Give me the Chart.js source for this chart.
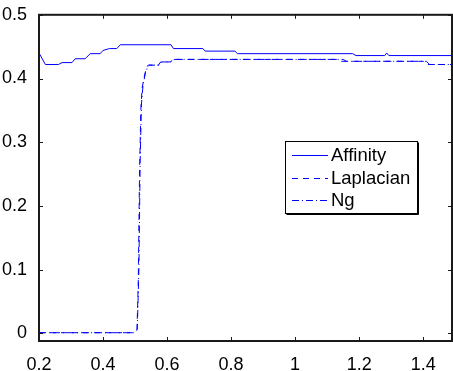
<!DOCTYPE html>
<html>
<head>
<meta charset="utf-8">
<script src="https://cdn.jsdelivr.net/npm/chart.js@4.4.1/dist/chart.umd.min.js"></script>
<style>
    html, body { margin: 0; padding: 0; background: #fff; }
</style>
</head>
<body>
<canvas id="chart" width="453" height="371"></canvas>
<script>
// Data
const affinityX = [0.2, 0.22, 0.261, 0.272, 0.303, 0.313, 0.344, 0.36, 0.391, 0.40, 0.42, 0.443, 0.454, 0.612, 0.62, 0.712, 0.719, 0.812, 0.82, 1.18, 1.19, 1.28, 1.286, 1.293, 1.49];
const affinityY = [0.44, 0.422, 0.422, 0.425, 0.425, 0.431, 0.431, 0.439, 0.439, 0.444, 0.447, 0.447, 0.453, 0.453, 0.447, 0.447, 0.443, 0.443, 0.439, 0.439, 0.436, 0.436, 0.44, 0.436, 0.436];

const laplacianX = [0.2, 0.493, 0.506, 0.510, 0.514, 0.518, 0.522, 0.53, 0.537, 0.542, 0.573, 0.58, 0.61, 0.62, 1.13, 1.14, 1.40, 1.41, 1.49];
const laplacianY = [0.001, 0.001, 0.005, 0.08, 0.25, 0.35, 0.385, 0.406, 0.419, 0.421, 0.421, 0.426, 0.426, 0.430, 0.430, 0.427, 0.427, 0.422, 0.422];

const ngX = [0.2, 0.495, 0.507, 0.512, 0.516, 0.520, 0.525, 0.533, 0.54, 0.545, 0.575, 0.583, 0.612, 0.622, 1.15, 1.16, 1.41, 1.42, 1.49];
const ngY = [0.001, 0.001, 0.006, 0.1, 0.27, 0.36, 0.39, 0.41, 0.419, 0.421, 0.421, 0.426, 0.426, 0.430, 0.430, 0.427, 0.427, 0.422, 0.422];

const seriesLabels = ['Affinity', 'Laplacian', 'Ng'];
const xTicks = [0.2, 0.4, 0.6, 0.8, 1, 1.2, 1.4];
const yTicks = [0, 0.1, 0.2, 0.3, 0.4, 0.5];

const fontFamily = "'Liberation Sans', Arial, Helvetica, sans-serif";
const blue = '#0000ff';

function toPoints(xs, ys) {
    return xs.map((x, i) => ({ x: x, y: ys[i] }));
}

// box, inward ticks and legend in MATLAB style
const matlabFrame = {
    id: 'matlabFrame',
    afterDraw(chart) {
        const ctx = chart.ctx;
        const area = chart.chartArea;
        const xs = chart.scales.x;
        const ys = chart.scales.y;
        const tickLen = 4;

        ctx.save();
        ctx.strokeStyle = '#1a1a1a';
        ctx.lineWidth = 2;
        ctx.strokeRect(area.left, area.top, area.right - area.left, area.bottom - area.top);
        ctx.lineWidth = 1;
        ctx.beginPath();
        xs.ticks.forEach(t => {
            const px = Math.round(xs.getPixelForValue(t.value)) + 0.5;
            ctx.moveTo(px, area.bottom);
            ctx.lineTo(px, area.bottom - tickLen);
            ctx.moveTo(px, area.top);
            ctx.lineTo(px, area.top + tickLen);
        });
        ys.ticks.forEach(t => {
            const py = Math.round(ys.getPixelForValue(t.value)) + 0.5;
            ctx.moveTo(area.left, py);
            ctx.lineTo(area.left + tickLen, py);
            ctx.moveTo(area.right, py);
            ctx.lineTo(area.right - tickLen, py);
        });
        ctx.stroke();

        // legend box
        const box = { x: 285.5, y: 141.5, w: 132, h: 72 };
        ctx.fillStyle = '#fff';
        ctx.fillRect(box.x, box.y, box.w, box.h);
        ctx.strokeStyle = '#000';
        ctx.strokeRect(box.x, box.y, box.w, box.h);
        ctx.beginPath();
        ctx.moveTo(box.x + 1, box.y + box.h + 1);
        ctx.lineTo(box.x + box.w + 1, box.y + box.h + 1);
        ctx.lineTo(box.x + box.w + 1, box.y + 1);
        ctx.stroke();

        ctx.font = '18.5px ' + fontFamily;
        ctx.textBaseline = 'middle';
        ctx.textAlign = 'left';
        chart.data.datasets.forEach((ds, i) => {
            const cy = Math.round(155 + i * 22.5) + 0.5;
            ctx.strokeStyle = ds.borderColor;
            ctx.lineWidth = 1;
            ctx.setLineDash(ds.borderDash || []);
            ctx.beginPath();
            ctx.moveTo(292, cy);
            ctx.lineTo(328, cy);
            ctx.stroke();
            ctx.setLineDash([]);
            ctx.fillStyle = '#000';
            ctx.fillText(ds.label, 331, cy);
        });
        ctx.restore();
    }
};

const ctx = document.getElementById('chart').getContext('2d');
const chart = new Chart(ctx, {
    type: 'line',
    data: {
        datasets: [
            {
                label: seriesLabels[0],
                data: toPoints(affinityX, affinityY),
                borderColor: blue,
                borderWidth: 1,
                pointRadius: 0,
                fill: false,
                tension: 0
            },
            {
                label: seriesLabels[1],
                data: toPoints(laplacianX, laplacianY),
                borderColor: blue,
                borderWidth: 1,
                borderDash: [6, 5],
                pointRadius: 0,
                fill: false,
                tension: 0
            },
            {
                label: seriesLabels[2],
                data: toPoints(ngX, ngY),
                borderColor: blue,
                borderWidth: 1,
                borderDash: [7, 3, 1, 3],
                pointRadius: 0,
                fill: false,
                tension: 0
            }
        ]
    },
    options: {
        responsive: false,
        animation: false,
        devicePixelRatio: 1,
        layout: { padding: { top: 13, right: 1, left: 0, bottom: 0 } },
        scales: {
            x: {
                type: 'linear',
                min: 0.2,
                max: 1.49,
                afterBuildTicks: (scale) => { scale.ticks = xTicks.map(v => ({ value: v })); },
                afterFit: (scale) => { scale.height = 30; },
                ticks: {
                    color: '#000',
                    padding: 5,
                    maxRotation: 0,
                    font: { family: fontFamily, size: 18 },
                    callback: (v) => String(v)
                },
                grid: { display: false },
                border: { display: false }
            },
            y: {
                type: 'linear',
                min: -0.012,
                max: 0.5,
                afterBuildTicks: (scale) => { scale.ticks = yTicks.map(v => ({ value: v })); },
                afterFit: (scale) => { scale.width = 39; },
                ticks: {
                    color: '#000',
                    padding: 4,
                    font: { family: fontFamily, size: 18 },
                    callback: (v) => String(v)
                },
                grid: { display: false },
                border: { display: false }
            }
        },
        plugins: {
            legend: { display: false },
            tooltip: { enabled: false }
        }
    },
    plugins: [matlabFrame]
});
</script>
</body>
</html>
